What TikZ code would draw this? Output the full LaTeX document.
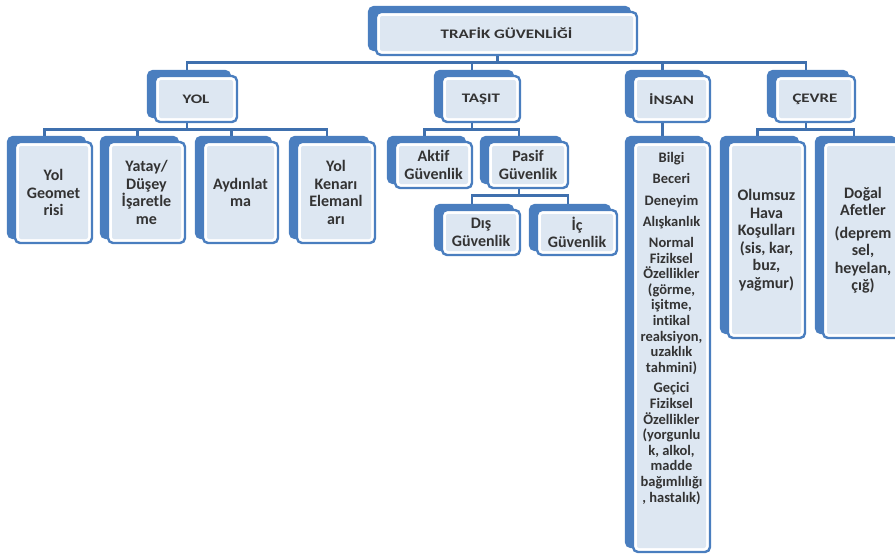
\documentclass[tikz,border=0pt]{standalone}
\usepackage{fontspec}
\setmainfont{Carlito}[Ligatures=NoCommon]
\newfontfamily\basfont{Carlito}[FakeStretch=1.3]
\usetikzlibrary{shadows,positioning,backgrounds}
\definecolor{kutumavi}{HTML}{4A7EBF}
\definecolor{hatmavi}{HTML}{3F70AE}
\definecolor{icdolgu}{HTML}{DDE7F2}
\definecolor{yazigri}{HTML}{333333}
\tikzset{
  kutu/.style={draw=kutumavi, line width=2.4pt, fill=white, rounded corners=5pt,
    copy shadow={shadow xshift=-7pt, shadow yshift=5pt, fill=kutumavi, draw=kutumavi, opacity=1},
    path picture={\fill[icdolgu, rounded corners=2pt]
      ([shift={(4pt,-4pt)}]path picture bounding box.north west) rectangle
      ([shift={(-4pt,4pt)}]path picture bounding box.south east);},
    text=yazigri, align=center, inner sep=2pt},
  baslik/.style={kutu, font=\basfont\bfseries\fontsize{13}{15}\selectfont},
  altkutu/.style={kutu, font=\bfseries\fontsize{16}{17.5}\selectfont},
  listeyazi/.style={text=yazigri, align=center, inner sep=2pt,
    font=\bfseries\fontsize{14.5}{15.6}\selectfont},
  baglanti/.style={draw=hatmavi, line width=2.8pt, line cap=round}
}
\begin{document}
\begin{tikzpicture}[x=1pt,y=-1pt]
\useasboundingbox (0,0) rectangle (895,557);
\clip (0,0) rectangle (895,557);
% ust seviye
\node[baslik, minimum width=261pt, minimum height=43pt] (trafik) at (506.5,33.5) {TRAFİK GÜVENLİĞİ};
% ana basliklar
\node[baslik, minimum width=82pt, minimum height=46pt] (yol) at (196,99) {YOL};
\node[baslik, minimum width=78pt, minimum height=46pt] (tasit) at (481,99) {TAŞIT};
\node[baslik, minimum width=77pt, minimum height=46pt] (insan) at (671.5,99) {İNSAN};
\node[baslik, minimum width=80pt, minimum height=46pt] (cevre) at (815,99) {ÇEVRE};
% yol
\node[altkutu, minimum width=77pt, minimum height=101pt] (geometri) at (53.5,192.5) {Yol\\ Geomet\\ risi};
\node[altkutu, minimum width=77pt, minimum height=101pt] (isaret) at (146.5,192.5) {Yatay/\\ Düşey\\ İşaretle\\ me};
\node[altkutu, minimum width=75pt, minimum height=101pt] (aydinlatma) at (240.5,192.5) {Aydınlat\\ ma};
\node[altkutu, minimum width=78pt, minimum height=101pt] (kenar) at (336,192.5) {Yol\\ Kenarı\\ Elemanl\\ arı};
% tasit
\node[altkutu, minimum width=77pt, minimum height=46pt] (aktif) at (433.5,165) {Aktif\\ Güvenlik};
\node[altkutu, minimum width=80pt, minimum height=46pt] (pasif) at (528,165) {Pasif\\ Güvenlik};
\node[altkutu, minimum width=78pt, minimum height=45pt] (dis) at (481,232.5) {Dış\\ Güvenlik};
\node[altkutu, minimum width=80pt, minimum height=45pt] (ic) at (577,232.5) {İç\\ Güvenlik};
% insan
\node[altkutu, minimum width=77pt, minimum height=410pt] (insanliste) at (671.5,347) {};
\node[listeyazi, below=9pt of insanliste.north] (insanmetin) {Bilgi\\[6pt] Beceri\\[6pt] Deneyim\\[6pt] Alışkanlık\\[5pt]
  Normal\\ Fiziksel\\ Özellikler\\ (görme,\\ işitme,\\ intikal\\ reaksiyon,\\ uzaklık\\ tahmini)\\[5pt]
  Geçici\\ Fiziksel\\ Özellikler\\ (yorgunlu\\ k, alkol,\\ madde\\ bağımlılığı\\ , hastalık)};
% cevre
\node[altkutu, minimum width=77pt, minimum height=196pt] (olumsuz) at (766.5,240) {Olumsuz\\ Hava\\ Koşulları\\ (sis, kar,\\ buz,\\ yağmur)};
\node[altkutu, minimum width=80pt, minimum height=196pt] (dogal) at (863,240) {Doğal\\ Afetler\\[5pt] (deprem\\ sel,\\ heyelan,\\ çığ)};
% baglantilar
\begin{scope}[on background layer]
\foreach \ust/\alt in {trafik/yol, trafik/tasit, trafik/insan, trafik/cevre,
  yol/geometri, yol/isaret, yol/aydinlatma, yol/kenar,
  tasit/aktif, tasit/pasif, pasif/dis, pasif/ic,
  insan/insanliste, cevre/olumsuz, cevre/dogal}
  \draw[baglanti] ([xshift=-9pt]\ust.south) -- ++(0,6) -| ([xshift=-9pt]\alt.north);
\end{scope}
\end{tikzpicture}
\end{document}
